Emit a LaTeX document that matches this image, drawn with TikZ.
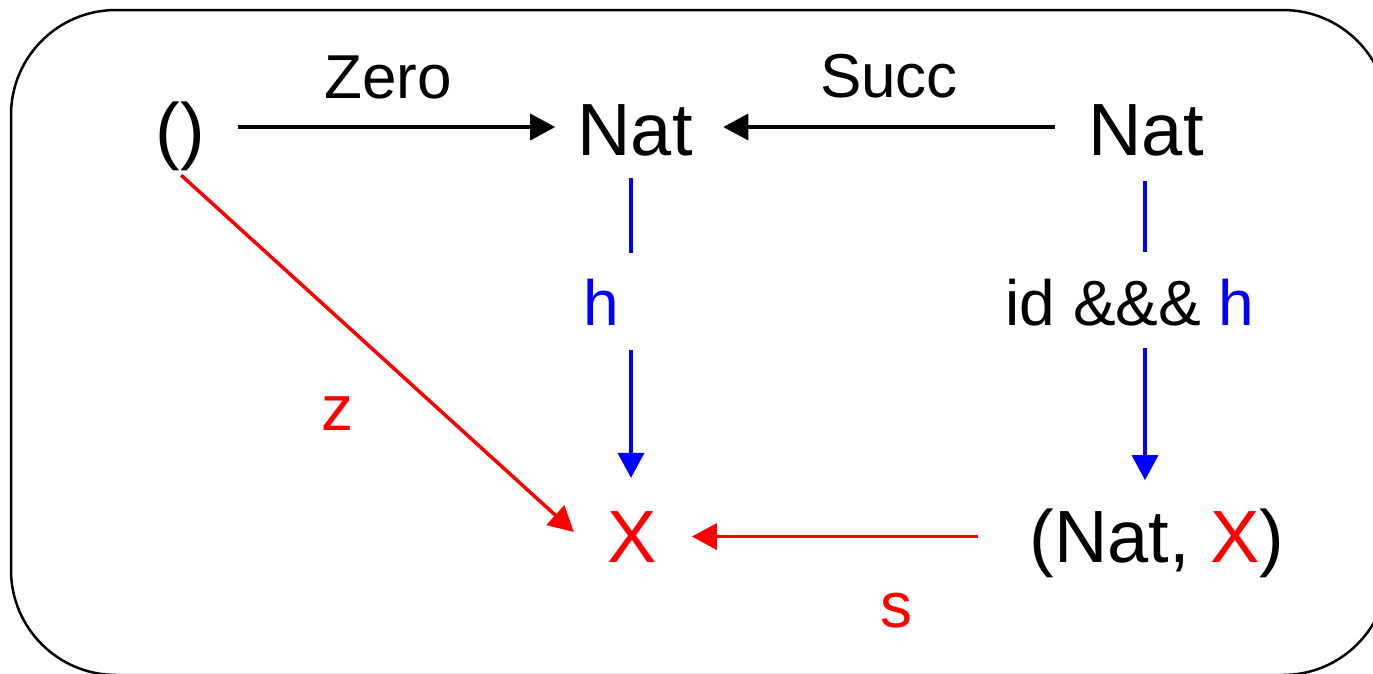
\documentclass[tikz,border=0pt]{standalone}
\usepackage{fontspec}
\setmainfont{Liberation Sans}
\usetikzlibrary{arrows.meta}
\tikzset{
  big/.style={font=\fontsize{74}{80}\selectfont, inner sep=0pt, anchor=base},
  lbl/.style={font=\fontsize{62}{68}\selectfont, inner sep=0pt, anchor=base},
  lblh/.style={font=\fontsize{64}{70}\selectfont, inner sep=0pt, anchor=base},
  arr/.style={line width=3.5pt, -{Triangle[length=25pt,width=26pt]}},
  seg/.style={line width=3.5pt},
  frame/.style={line width=2.5pt, rounded corners=105pt}
}
\begin{document}
\begin{tikzpicture}[x=1pt,y=-1pt]
\useasboundingbox (0,0) rectangle (1373,673);
\clip (0,0) rectangle (1373,673);
\draw[frame] (11,10) rectangle (1388,675);
% main nodes
\node[big] (unit) at (180,155) {()};
\node[big] (natA) at (635,155) {Nat};
\node[big] (natB) at (1146,155) {Nat};
\node[big, text=red] (X) at (632,562) {X};
\node[big] (pair) at (1157,562) {(Nat, \textcolor{red}{X})};
% labels
\node[lbl] (zero) at (388,98) {Zero};
\node[lbl] (succ) at (889,97) {Succ};
\node[lblh, text=blue] (hl) at (601,325) {h};
\node[lblh] (idl) at (1130,325) {id \&\&\& \textcolor{blue}{h}};
\node[lblh, text=red] (zl) at (337,430) {z};
\node[lblh, text=red] (sl) at (896,627) {s};
% gap coordinates
\coordinate (hT) at (631,253);
\coordinate (hB) at (631,350);
\coordinate (iT) at (1145,252);
\coordinate (iB) at (1145,348);
% arrows
\draw[arr, shorten <=33pt, shorten >=22pt] (unit.east |- natA.base) ++(0,-28) coordinate (zs) (zs) -- (natA.west |- zs);
\draw[arr, shorten <=33.5pt, shorten >=30.5pt] (natB.west |- zs) -- (natA.east |- zs);
\draw[seg, blue, shorten <=22pt] (hT |- natA.south) -- (hT);
\draw[arr, blue, shorten >=33pt] (hB) -- (hB |- X.north);
\draw[seg, blue, shorten <=25pt] (iT |- natB.south) -- (iT);
\draw[arr, blue, shorten >=28pt] (iB) -- (iB |- pair.north);
\draw[arr, red, shorten <=7pt, shorten >=45pt] ([xshift=-4pt]unit.south) -- (X.south west);
\draw[arr, red, shorten <=51.5pt, shorten >=35pt] (pair.west |- X.east) -- (X.east);
\end{tikzpicture}
\end{document}
